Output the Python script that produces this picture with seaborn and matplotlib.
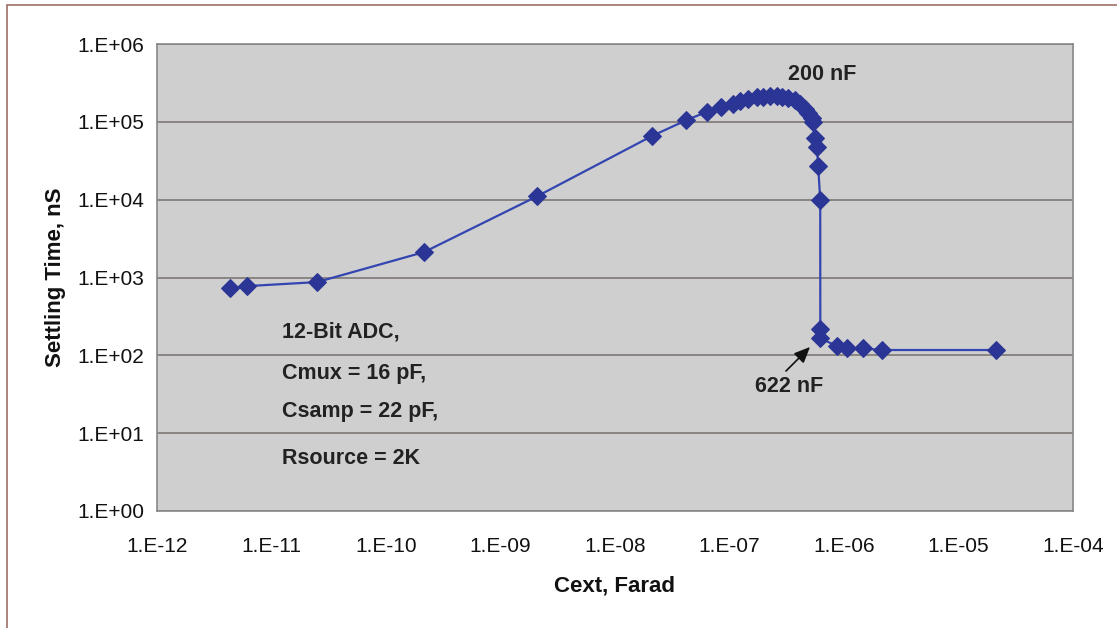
import matplotlib
matplotlib.use("Agg")
import matplotlib.pyplot as plt
import matplotlib.ticker as mticker
from matplotlib.patches import Rectangle
import seaborn as sns
import pandas as pd

# Data
cext_farad = [4.3e-12, 6.1e-12, 2.5e-11, 2.15e-10, 2.1e-9, 2.1e-8, 4.2e-8, 6.3e-8,
              8.45e-8, 1.07e-7, 1.24e-7, 1.45e-7, 1.74e-7, 1.96e-7, 2.26e-7, 2.6e-7,
              2.88e-7, 3.24e-7, 3.73e-7, 4.13e-7, 4.56e-7, 4.85e-7, 5.26e-7, 5.36e-7,
              5.58e-7, 5.81e-7, 5.95e-7, 6.2e-7, 6.21e-7, 6.22e-7, 8.7e-7, 1.06e-6,
              1.47e-6, 2.15e-6, 2.13e-5]
settling_ns = [731, 775, 873, 2120, 11100, 65700, 105000, 134000,
               155000, 169000, 185000, 196000, 208000, 211000, 215000, 215000,
               211000, 202000, 191000, 169000, 146000, 130000, 112000, 99400,
               61900, 47400, 27000, 9900, 217, 166, 131, 124,
               123, 117, 117]

x_ticks = [1e-12, 1e-11, 1e-10, 1e-9, 1e-8, 1e-7, 1e-6, 1e-5, 1e-4]
x_tick_labels = ["1.E-12", "1.E-11", "1.E-10", "1.E-09", "1.E-08", "1.E-07",
                 "1.E-06", "1.E-05", "1.E-04"]
y_ticks = [1e0, 1e1, 1e2, 1e3, 1e4, 1e5, 1e6]
y_tick_labels = ["1.E+00", "1.E+01", "1.E+02", "1.E+03", "1.E+04", "1.E+05", "1.E+06"]
notes = ["12-Bit ADC,", "Cmux = 16 pF,", "Csamp = 22 pF,", "Rsource = 2K"]

df = pd.DataFrame({"Cext": cext_farad, "Settling": settling_ns})

sns.set_theme(style="white")
plt.rcParams["font.family"] = ["Liberation Sans", "DejaVu Sans"]

fig = plt.figure(figsize=(11.17, 6.28), dpi=100)
ax = fig.add_axes([157 / 1117, 1 - 511 / 628, (1073 - 157) / 1117, (511 - 44) / 628])
ax.set_facecolor("#CFCFCF")

ax.set_xscale("log")
ax.set_yscale("log")
ax.set_xlim(1e-12, 1e-4)
ax.set_ylim(1e0, 1e6)

for yv in y_ticks:
    ax.axhline(yv, color="#7E7775", lw=1.2, zorder=1)

sns.lineplot(data=df, x="Cext", y="Settling", ax=ax, sort=False, estimator=None,
             color="#3345B0", lw=1.6, marker="D", markersize=9,
             markerfacecolor="#2B3596", markeredgecolor="#2B3596", zorder=3)

ax.set_xticks(x_ticks)
ax.set_xticklabels(x_tick_labels)
ax.set_yticks(y_ticks)
ax.set_yticklabels(y_tick_labels)
ax.xaxis.set_minor_locator(mticker.NullLocator())
ax.yaxis.set_minor_locator(mticker.NullLocator())
ax.tick_params(axis="both", which="major", labelsize=15, length=5, width=1,
               color="#666666", direction="out", labelcolor="#111111")
ax.tick_params(axis="x", pad=14)
ax.tick_params(axis="y", pad=4)

for side in ["left", "bottom", "right", "top"]:
    ax.spines[side].set_visible(True)
    ax.spines[side].set_color("#888888")
    ax.spines[side].set_linewidth(1.2)

ax.set_xlabel("Cext, Farad", fontsize=16, fontweight="bold", labelpad=14, color="#111111")
ax.set_ylabel("Settling Time, nS", fontsize=16, fontweight="bold", labelpad=8, color="#111111")

note_y = [332, 373, 412, 459]
for txt, py in zip(notes, note_y):
    fig.text(282 / 1117, 1 - py / 628, txt, fontsize=15.5, fontweight="bold",
             color="#222222", ha="left", va="center")

fig.text(822 / 1117, 1 - 74 / 628, "200 nF", fontsize=15.5, fontweight="bold",
         color="#222222", ha="center", va="center")
fig.text(789 / 1117, 1 - 387 / 628, "622 nF", fontsize=15.5, fontweight="bold",
         color="#222222", ha="center", va="center")
ax.annotate("", xy=(812 / 1117, 1 - 345 / 628), xycoords="figure fraction",
            xytext=(784 / 1117, 1 - 373 / 628), textcoords="figure fraction",
            arrowprops=dict(arrowstyle="-|>,head_length=0.8,head_width=0.35",
                            color="#111111", lw=1.2))

# outer frame (left and top edges visible in the reference)
fig.patches.append(Rectangle((7 / 1117, -0.05), 1.1, 1 - 5 / 628 + 0.05,
                             transform=fig.transFigure, fill=False,
                             edgecolor="#9C6E66", lw=1.2, zorder=0))

fig.savefig("out.png", dpi=100, facecolor="white")
